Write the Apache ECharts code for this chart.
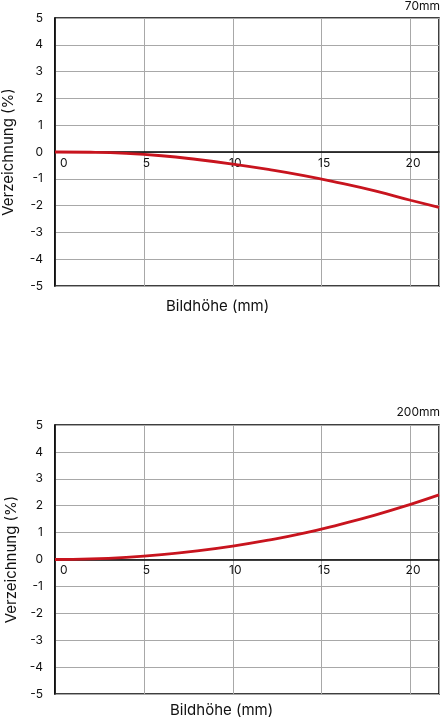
<!DOCTYPE html>
<html><head><meta charset="utf-8">
<script src="https://cdn.jsdelivr.net/npm/echarts@6/dist/echarts.min.js"></script>
<style>html,body{margin:0;padding:0;background:#fff}#c{width:443px;height:720px}</style>
</head><body><div id="c"></div>
<script>
const xTop = [0, 2, 4, 6, 8, 10, 12, 14, 16, 18, 20, 21.6];
const yTop = [0, -0.01, -0.05, -0.14, -0.28, -0.45, -0.65, -0.88, -1.15, -1.45, -1.8, -2.07];
const xBottom = [0, 2, 4, 6, 8, 10, 12, 14, 16, 18, 20, 21.6];
const yBottom = [0, 0.02, 0.08, 0.18, 0.32, 0.5, 0.72, 0.98, 1.3, 1.65, 2.05, 2.4];
const titles = ['70mm', '200mm'];
const xName = 'Bildhöhe (mm)';
const yName = 'Verzeichnung (%)';

const font = 'Inter, Roboto, sans-serif';
const chart = echarts.init(document.getElementById('c'), null, {renderer: 'canvas'});
const grids = [
  {left: 55, top: 18, width: 384, height: 268},
  {left: 55, top: 425, width: 384, height: 269}
];
function xAx(i, off) {
  return {
    type: 'value', gridIndex: i, min: 0, max: 21.6, interval: 5,
    position: 'bottom', offset: off,
    axisLine: {onZero: false, lineStyle: {color: '#000', width: 1.5}},
    axisTick: {show: false},
    axisLabel: {color: '#111', fontSize: 12, fontFamily: font, margin: 5, showMaxLabel: false, alignMinLabel: 'left', padding: [0,0,0,5]},
    splitLine: {show: true, lineStyle: {color: '#a8a8a8', width: 1}}
  };
}
function yAx(i, gap) {
  return {
    type: 'value', gridIndex: i, min: -5, max: 5, interval: 1,
    name: yName, nameLocation: 'middle', nameGap: gap, nameRotate: 90,
    nameTextStyle: {color: '#111', fontSize: 15, fontFamily: font},
    axisLine: {show: true, lineStyle: {color: '#000', width: 1.5}},
    axisTick: {show: false},
    axisLabel: {color: '#111', fontSize: 12, fontFamily: font, margin: 12},
    splitLine: {show: true, lineStyle: {color: '#a8a8a8', width: 1}}
  };
}
function series(i, xs, ys) {
  return {
    type: 'line', xAxisIndex: i, yAxisIndex: i, smooth: true, showSymbol: false,
    lineStyle: {color: '#c8141e', width: 2.8},
    data: xs.map((x, k) => [x, ys[k]]), z: 5
  };
}
chart.setOption({
  animation: false,
  grid: grids.map(g => Object.assign({show: true, borderColor: '#000', borderWidth: 1.5, backgroundColor: '#fff', containLabel: false, outerBoundsMode: 'none'}, g)),
  xAxis: [xAx(0, -134), xAx(1, -134.5)],
  yAxis: [yAx(0, 39), yAx(1, 30)],
  series: [series(0, xTop, yTop), series(1, xBottom, yBottom)],
  graphic: [
    {type: 'text', right: 3, top: 0, style: {text: titles[0], fontSize: 12, fontFamily: font, fill: '#111'}},
    {type: 'text', right: 3, top: 406, style: {text: titles[1], fontSize: 12, fontFamily: font, fill: '#111'}},
    {type: 'text', left: 166, top: 299, style: {text: xName, fontSize: 15, fontFamily: font, fill: '#111'}},
    {type: 'text', left: 170, top: 703, style: {text: xName, fontSize: 15, fontFamily: font, fill: '#111'}}
  ]
});
</script></body></html>
